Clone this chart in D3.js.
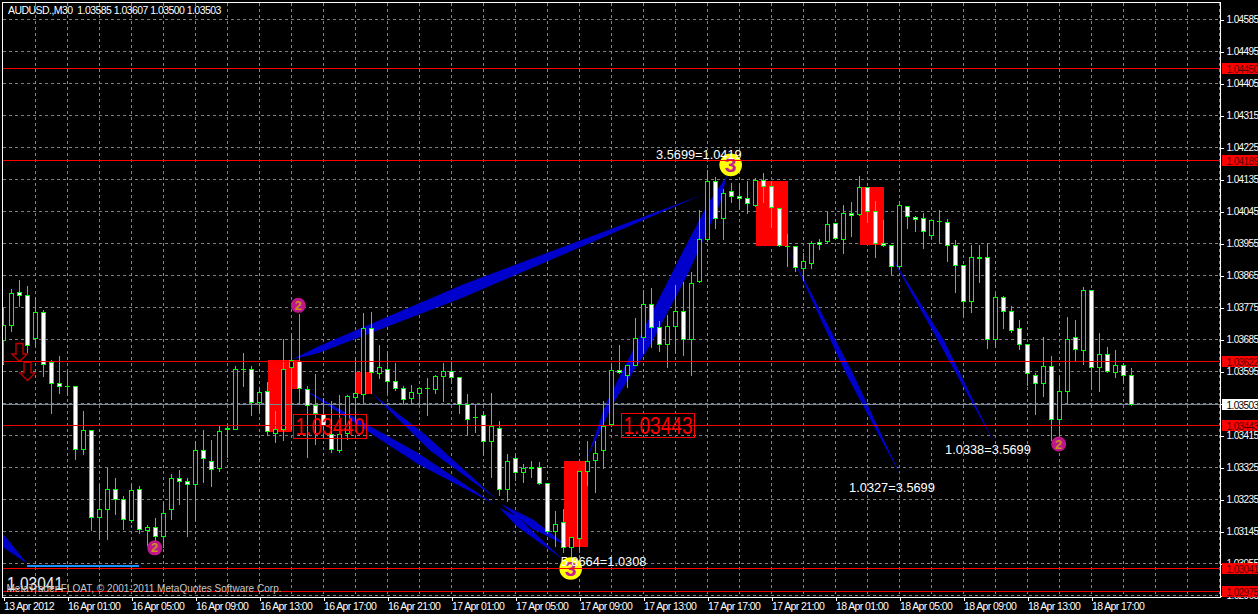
<!DOCTYPE html>
<html><head><meta charset="utf-8">
<script src="https://cdn.jsdelivr.net/npm/d3@7/dist/d3.min.js"></script>
<style>html,body{margin:0;padding:0;background:#000;overflow:hidden}svg{display:block}text{font-family:"Liberation Sans",Arial,sans-serif}</style>
</head><body><div id="c"></div>
<script>
// values in points (1 point = 0.00001), candles are 30 minutes each
const opens=[103682,103723,103816,103810,103689,103760,103619,103560,103554,103554,
103376,103428,103183,103206,103262,103234,103175,103262,103149,103155,
103132,103206,103293,103287,103276,103374,103341,103321,103434,103432,
103602,103602,103507,103540,103422,103431,103605,103622,103543,103498,
103473,103419,103374,103422,103522,103529,103717,103588,103602,103566,
103546,103518,103532,103546,103543,103582,103594,103577,103501,103467,
103470,103397,103436,103262,103349,103310,103326,103324,103279,103146,
103169,103099,103124,103315,103346,103372,103445,103599,103585,103611,
103690,103783,103718,103670,103721,103763,103685,103847,103967,104129,
104025,104101,104087,104081,104061,104132,104115,104053,103946,103946,
103884,103898,103957,103960,104011,103966,104039,104036,104112,104044,
103954,103949,103890,104058,104027,104025,103977,104016,104013,103949,
103892,103793,103917,103917,103684,103802,103765,103715,103670,103585,
103560,103608,103459,103540,103692,103653,103822,103607,103644,103591,103613,103585];
const highs=[103776,103829,103853,103837,103806,103768,103630,103639,103602,103557,
103485,103428,103281,103324,103296,103245,103279,103273,103166,103185,
103230,103307,103319,103297,103400,103433,103405,103445,103450,103613,
103648,103612,103552,103566,103485,103687,103703,103757,103557,103588,
103522,103513,103529,103530,103635,103761,103763,103672,103654,103621,
103555,103558,103553,103579,103586,103621,103624,103579,103532,103504,
103485,103535,103456,103363,103363,103335,103346,103342,103282,103203,
103210,103129,103316,103402,103401,103513,103619,103672,103616,103746,
103826,103832,103739,103755,103840,103847,103876,104051,104163,104144,
104109,104126,104126,104132,104140,104155,104132,104053,103982,103950,
103930,103964,103968,104044,104011,104065,104073,104146,104112,104075,
104022,103949,104075,104061,104034,104043,104019,104050,104025,103966,
103892,103952,103952,103959,103813,103808,103780,103741,103670,103593,
103693,103640,103585,103749,103741,103833,103824,103706,103665,103656,103621,103607];
const lows=[103616,103708,103778,103649,103666,103581,103476,103532,103527,103347,
103361,103147,103123,103123,103194,103150,103169,103138,103105,103119,
103101,103178,103221,103132,103175,103283,103272,103314,103352,103431,
103552,103471,103477,103414,103396,103401,103433,103501,103354,103391,
103410,103368,103366,103405,103447,103508,103532,103575,103537,103541,
103506,103506,103504,103471,103534,103511,103560,103477,103414,103424,
103360,103297,103246,103230,103288,103283,103297,103276,103138,103102,
103087,103058,103087,103274,103255,103321,103441,103590,103551,103611,
103645,103662,103650,103605,103648,103640,103584,103846,103962,103997,
103967,104069,104050,104039,104059,104069,104001,103947,103889,103875,
103850,103885,103937,103956,103966,103928,103975,104034,104015,103917,
103947,103868,103888,103996,103990,103940,103973,103954,103903,103818,
103749,103761,103845,103659,103663,103715,103704,103658,103555,103474,
103526,103401,103410,103504,103622,103616,103545,103539,103592,103577,103560,103500];
const closes=[103723,103813,103810,103667,103760,103616,103560,103552,103552,103377,
103428,103183,103208,103262,103234,103180,103259,103152,103155,103132,
103197,103293,103287,103276,103374,103349,103318,103425,103433,103602,
103602,103507,103537,103425,103433,103602,103625,103546,103498,103476,
103443,103377,103417,103526,103532,103717,103591,103605,103568,103546,
103515,103535,103546,103546,103580,103594,103577,103501,103459,103467,
103397,103439,103262,103343,103310,103321,103321,103279,103144,103166,
103099,103127,103315,103341,103363,103441,103599,103591,103611,103689,
103783,103718,103670,103721,103763,103684,103842,103966,104129,104025,
104095,104087,104081,104067,104132,104115,104056,103949,103946,103887,
103904,103954,103952,104008,103968,104039,104033,104112,104044,103954,
103949,103890,104061,104030,104022,103988,104019,104016,103949,103892,
103793,103917,103912,103684,103802,103765,103710,103670,103588,103560,
103608,103459,103538,103684,103656,103824,103605,103642,103594,103613,103585,103503];

const titleText="AUDUSD.,M30  1.03585 1.03607 1.03500 1.03503";
const copyrightText="MetaTrader FLOAT, © 2001-2011 MetaQuotes Software Corp.";
const priceTicks=[1.04585,1.04495,1.04405,1.04315,1.04225,1.04135,1.04045,1.03955,1.03865,1.03775,1.03685,1.03595,1.03505,1.03415,1.03325,1.03235,1.03145,1.03055,1.02965];
const timeTickIdx=[0,8,16,24,32,40,48,56,64,72,80,88,96,104,112,120,128,136];
const timeLabels=["13 Apr 2012","16 Apr 01:00","16 Apr 05:00","16 Apr 09:00","16 Apr 13:00","16 Apr 17:00","16 Apr 21:00","17 Apr 01:00","17 Apr 05:00","17 Apr 09:00","17 Apr 13:00","17 Apr 17:00","17 Apr 21:00","18 Apr 01:00","18 Apr 05:00","18 Apr 09:00","18 Apr 13:00","18 Apr 17:00"];
const levelPrices=[1.04447,1.04189,1.03622,1.03443,1.03041,1.02975];
const levelLabels=["1.04450","1.04189","1.03622","1.03443","1.03041","1.02975"];
const bidPrice=1.03503;
// red zones: [fromIdx,toIdx,topPoints,bottomPoints]
const zones=[[33,36,103628,103426],[36,37,103628,103546],[44,46,103593,103532],[70,73,103342,103101],[94,98,104132,103948],[107,110,104113,103952]];
// blue harmonic wedges: lists of [idx,points]
const wedges=[
 [[36.06,103629],[39.31,103665],[57.44,103840],[87.44,104093],[57.44,103803],[39.31,103646]],
 [[36.69,103556],[51.69,103367],[61.44,103221],[51.69,103336]],
 [[62.06,103224],[66.19,103179],[70.56,103103],[66.19,103151]],
 [[46.06,103533],[52.69,103418],[61.69,103235],[53.31,103373]],
 [[61.94,103212],[64.19,103187],[69.94,103066],[64.19,103159]],
 [[72.94,103350],[75.31,103505],[85.81,103972],[88.06,104067],[90.44,104146],[89.56,104067],[85.44,103865],[80.81,103668],[76.19,103505]],
 [[97.94,103947],[105.31,103589],[112.19,103300],[106.19,103589]],
 [[110.19,103947],[116.81,103682],[123.94,103390],[117.56,103682]],
 [[-0.19,103142],[2.94,103055],[-0.19,103103]]
];
const blueSegment=[[2.94,103048],[16.94,103048]];
const pinkIdx=[36.85,18.9,131.9];
const pinkPts=[103781,103099,103391];
const yellowIdx=[90.9,70.9];
const yellowPts=[104176,103041];
const yellowDigits=["3","3"];
const ratioTexts=["3.5699=1.0419","5.8664=1.0308","1.0338=3.5699","1.0327=3.5699"];
const ratioIdx=[81.56,69.65,117.7,105.7];
const ratioPts=[104194,103047,103362,103257];
const boxTexts=["1.03440","1.03443"];
const boxIdx=[36.31,77.3];
const boxPts=[103439,103442];
const arrowIdx=[2,3];
const arrowPts=[103623,103570];

const W=1258,H=614;
const svg=d3.select("#c").append("svg").attr("width",W).attr("height",H);
svg.append("rect").attr("width",W).attr("height",H).attr("fill","#000");
const x=d3.scaleLinear().domain([0,141]).range([3.5,1131.5]);
const y=d3.scaleLinear().domain([1.04585,1.02965]).range([19.5,595.5]);
const yp=p=>y(p/1e5);
const snap=v=>Math.floor(v)+0.5;
const L=2.5,R=1220.5,T=2.5,B=597.5;
svg.append("defs").append("clipPath").attr("id","cp").append("rect").attr("x",L).attr("y",T).attr("width",R-L).attr("height",B-T);
const g=svg.append("g").attr("clip-path","url(#cp)");

// grid
const gridCol="#808488";
g.selectAll(".gh").data(priceTicks).join("line").attr("x1",L).attr("x2",R).attr("y1",d=>snap(y(d))).attr("y2",d=>snap(y(d)))
 .attr("stroke",gridCol).attr("stroke-dasharray","3,3").attr("shape-rendering","crispEdges");
g.selectAll(".gv").data(d3.range(4,153,4)).join("line").attr("y1",T).attr("y2",B).attr("x1",d=>snap(x(d))).attr("x2",d=>snap(x(d)))
 .attr("stroke",gridCol).attr("stroke-dasharray","3,3").attr("shape-rendering","crispEdges");

// zones
g.selectAll(".z").data(zones).join("rect").attr("x",d=>x(d[0])).attr("width",d=>x(d[1])-x(d[0]))
 .attr("y",d=>yp(d[2])).attr("height",d=>yp(d[3])-yp(d[2])).attr("fill","#ff0000").attr("shape-rendering","crispEdges");

// wedges
const line=d3.line().x(d=>x(d[0])).y(d=>yp(d[1])).curve(d3.curveLinearClosed);
g.selectAll(".w").data(wedges).join("path").attr("d",line).attr("fill","#0000cd");
g.append("path").attr("d",d3.line().x(d=>x(d[0])).y(d=>yp(d[1]))(blueSegment)).attr("stroke","#1e90ff").attr("stroke-width",2).attr("shape-rendering","crispEdges");

// bid line
g.append("line").attr("x1",L).attr("x2",R).attr("y1",snap(y(bidPrice))).attr("y2",snap(y(bidPrice))).attr("stroke","#778899").attr("shape-rendering","crispEdges");

// arrows
arrowIdx.forEach((a,i)=>{
 const cx=x(a),ty=yp(arrowPts[i]);
 g.append("path").attr("d",`M${cx},${ty}L${cx-7.5},${ty-7.5}L${cx-3.5},${ty-7.5}L${cx-3.5},${ty-18}L${cx+3.5},${ty-18}L${cx+3.5},${ty-7.5}L${cx+7.5},${ty-7.5}Z`)
  .attr("fill","#000").attr("stroke","#c00000").attr("stroke-width",1.4);
});

// candles
const idx=d3.range(opens.length);
g.selectAll(".wk").data(idx).join("line").attr("x1",i=>x(i)).attr("x2",i=>x(i)).attr("y1",i=>snap(yp(highs[i]))).attr("y2",i=>snap(yp(lows[i])))
 .attr("stroke","#00ff00").attr("shape-rendering","crispEdges");
g.selectAll(".bd").data(idx).join("rect").attr("x",i=>x(i)-2).attr("width",4)
 .attr("y",i=>snap(yp(Math.max(opens[i],closes[i]))))
 .attr("height",i=>Math.max(0.01,snap(yp(Math.min(opens[i],closes[i])))-snap(yp(Math.max(opens[i],closes[i])))))
 .attr("fill",i=>closes[i]<opens[i]?"#fff":"#000").attr("stroke","#00ff00").attr("shape-rendering","crispEdges");

// pink circles
pinkIdx.forEach((a,i)=>{
 g.append("circle").attr("cx",x(a)).attr("cy",yp(pinkPts[i])).attr("r",7.5).attr("fill","#c0168c");
 g.append("text").attr("x",x(a)).attr("y",yp(pinkPts[i])+4.5).attr("text-anchor","middle").attr("font-size",13).attr("font-weight","bold").attr("fill","#c89020").text("2");
});
// yellow circles
yellowIdx.forEach((a,i)=>{
 g.append("circle").attr("cx",x(a)).attr("cy",yp(yellowPts[i])).attr("r",11.3).attr("fill","#ffff00");
 g.append("text").attr("x",x(a)).attr("y",yp(yellowPts[i])+7.5).attr("text-anchor","middle").attr("font-size",21).attr("font-weight","bold").attr("fill","#c0208c").text(yellowDigits[i]);
});

// level lines
g.selectAll(".lv").data(levelPrices).join("line").attr("x1",L).attr("x2",R).attr("y1",d=>snap(y(d))).attr("y2",d=>snap(y(d)))
 .attr("stroke",(d,i)=>(i==2||i==3||i==5)?"#f00000":"#ff0000").attr("shape-rendering","crispEdges");

// ratio texts
ratioTexts.forEach((t,i)=>{
 g.append("text").attr("x",x(ratioIdx[i])).attr("y",yp(ratioPts[i])).attr("font-size",12.8).attr("fill","#fff").text(t);
});
// boxed labels
boxTexts.forEach((t,i)=>{
 const bx=snap(x(boxIdx[i])),cy=yp(boxPts[i]);
 g.append("rect").attr("x",bx).attr("y",snap(cy-12)).attr("width",73).attr("height",24).attr("fill","none").attr("stroke","#ff0000").attr("shape-rendering","crispEdges");
 g.append("text").attr("x",bx+2).attr("y",cy+8.5).attr("font-size",23).attr("textLength",69).attr("lengthAdjust","spacingAndGlyphs").attr("fill","#ff0000").text(t);
});
g.append("text").attr("x",7).attr("y",590).attr("font-size",18.5).attr("textLength",56).attr("lengthAdjust","spacingAndGlyphs").attr("fill","#f0f0f0").text(levelLabels[4]);
g.append("text").attr("x",6.5).attr("y",592).attr("font-size",11).attr("textLength",275).attr("lengthAdjust","spacingAndGlyphs").attr("fill","#c8c8c8").text(copyrightText);

// frame
const frame=svg.append("g").attr("fill","none").attr("stroke","#fff").attr("shape-rendering","crispEdges");
frame.append("path").attr("d",`M${L},${B}V${T}H${R}V${B}H${L}`);

// axes
const axFont=10.5, priceFont=10;
const yAxis=svg.append("g").attr("transform",`translate(${R},0)`).call(d3.axisRight(y).tickValues(priceTicks).tickSize(3).tickFormat(d3.format(".5f")));
yAxis.select(".domain").remove();
yAxis.selectAll("line").attr("stroke","#fff").attr("shape-rendering","crispEdges").attr("transform",d=>`translate(0,${snap(y(d))-y(d)})`);
yAxis.selectAll("text").attr("x",6).attr("fill","#fff").attr("font-size",priceFont).attr("font-family",null).attr("letter-spacing","-0.6px").attr("dy","0.34em");
const xAxis=svg.append("g").attr("transform",`translate(0,${B})`).call(d3.axisBottom(x).tickValues(timeTickIdx).tickSize(3).tickFormat((d,i)=>timeLabels[i]));
xAxis.select(".domain").remove();
xAxis.selectAll("line").attr("stroke","#fff").attr("shape-rendering","crispEdges");
xAxis.selectAll("text").attr("y",12.5).attr("dy",null).attr("x",0).attr("text-anchor","start").attr("fill","#fff").attr("font-size",axFont).attr("font-family",null).attr("letter-spacing","-0.6px");

// price tags
const tags=svg.append("g");
levelPrices.forEach((p,i)=>{
 const c=snap(y(p));
 tags.append("rect").attr("x",1222).attr("y",c-5.5).attr("width",36).attr("height",11).attr("fill","#ff0000").attr("shape-rendering","crispEdges");
 tags.append("text").attr("x",1226.5).attr("y",c+4).attr("font-size",priceFont).attr("letter-spacing","-0.6px").attr("fill","#5a0000").text(levelLabels[i]);
});
const bc=snap(y(bidPrice));
tags.append("rect").attr("x",1222).attr("y",bc-5.5).attr("width",36).attr("height",11).attr("fill","#fff").attr("shape-rendering","crispEdges");
tags.append("text").attr("x",1226.5).attr("y",bc+4).attr("font-size",priceFont).attr("letter-spacing","-0.6px").attr("fill","#000").text("1.03503");

// title
svg.append("text").attr("x",8).attr("y",14).attr("font-size",axFont).attr("letter-spacing","-0.55px").attr("fill","#fff").style("white-space","pre").text(titleText);
</script></body></html>
